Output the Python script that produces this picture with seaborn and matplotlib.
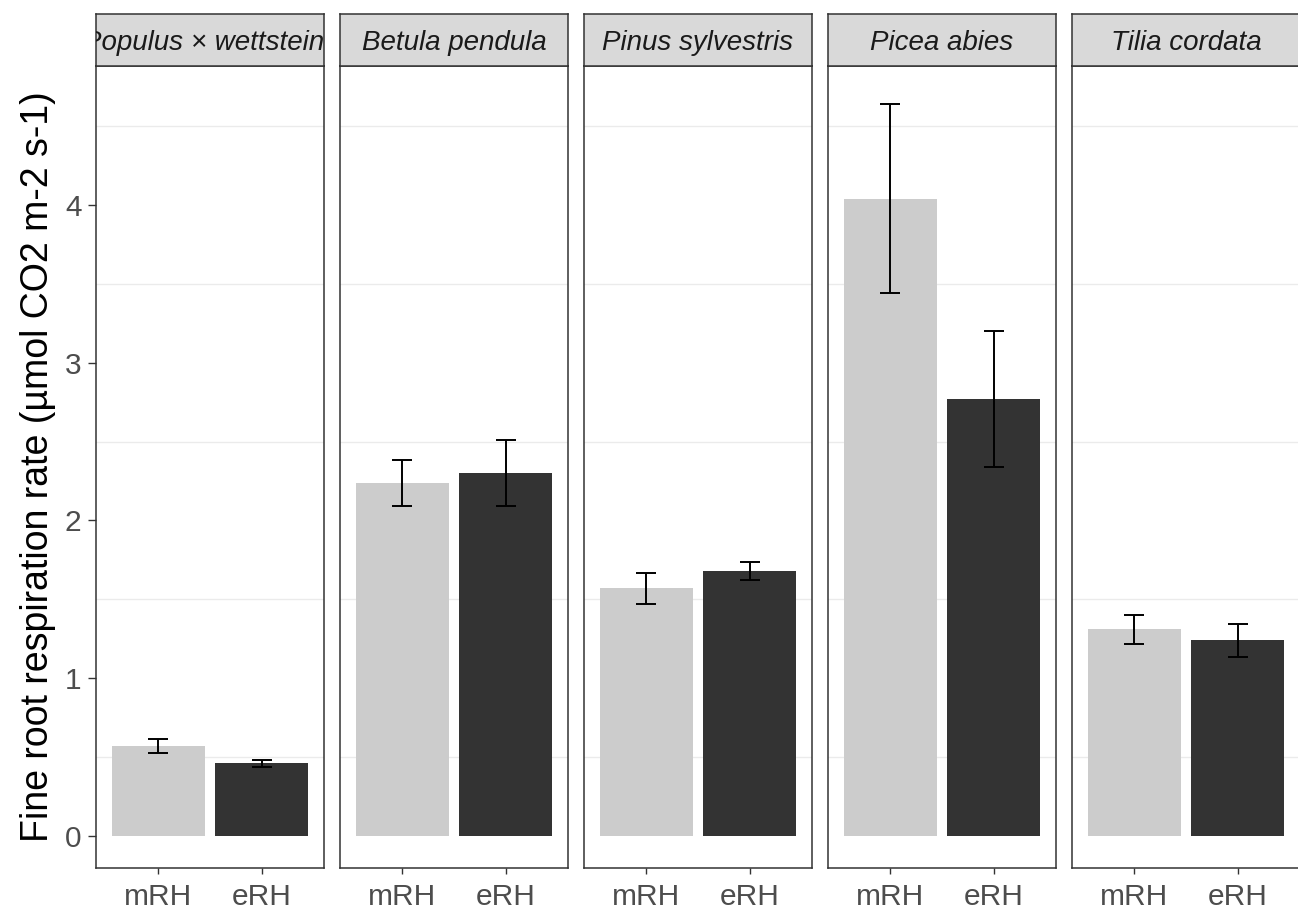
import numpy as np
import pandas as pd
import matplotlib
matplotlib.use("Agg")
import matplotlib.pyplot as plt
import seaborn as sns

# Fine root respiration by species and humidity treatment (mean ± SE)
species = ["Populus \u00d7 wettsteinii", "Betula pendula", "Pinus sylvestris",
           "Picea abies", "Tilia cordata"]
treatments = ["mRH", "eRH"]
mean_mRH = [0.57, 2.24, 1.57, 4.04, 1.31]
mean_eRH = [0.46, 2.30, 1.68, 2.77, 1.24]
se_mRH = [0.045, 0.146, 0.10, 0.60, 0.09]
se_eRH = [0.020, 0.21, 0.057, 0.43, 0.103]

df = pd.DataFrame({
    "species": np.repeat(species, 2),
    "treatment": treatments * len(species),
    "rate": [v for pair in zip(mean_mRH, mean_eRH) for v in pair],
    "se": [v for pair in zip(se_mRH, se_eRH) for v in pair],
})

sns.set_theme(style="white")
plt.rcParams["font.family"] = ["Liberation Sans", "DejaVu Sans"]

W, H = 1298, 919
fig = plt.figure(figsize=(W / 100, H / 100), dpi=100)

palette = {"mRH": "#CCCCCC", "eRH": "#333333"}
border = "#333333"
tick_col = "#4D4D4D"

panel_left = [96, 340, 584, 828, 1072]
panel_w = 228
panel_top, panel_bot = 66, 868
strip_top = 14

ylo, yhi = -0.203, 4.881

for i, sp in enumerate(species):
    x0 = panel_left[i] / W
    ax = fig.add_axes([x0, (H - panel_bot) / H, panel_w / W,
                       (panel_bot - panel_top) / H])
    sub = df[df["species"] == sp]
    sns.barplot(data=sub, x="treatment", y="rate", hue="treatment",
                order=treatments, hue_order=treatments, palette=palette,
                width=0.9, errorbar=None, legend=False, ax=ax,
                linewidth=0, saturation=1)
    ax.errorbar(np.arange(len(treatments)), sub["rate"].values,
                yerr=sub["se"].values, fmt="none", ecolor="black",
                elinewidth=1.4, capsize=7.4, capthick=1.4, zorder=5)
    ax.set_xlim(-0.6, 1.6)
    ax.set_ylim(ylo, yhi)
    ax.set_yticks(np.arange(0.5, 5, 1.0), minor=True)
    ax.grid(False)
    ax.grid(True, which="minor", axis="y", color="#EBEBEB", lw=1.0)
    ax.set_axisbelow(True)
    ax.set_xlabel("")
    ax.set_ylabel("")
    for s in ax.spines.values():
        s.set_color(border)
        s.set_linewidth(1.1)
    ax.tick_params(axis="x", which="major", length=4.5, width=1.0,
                   color=border, labelsize=21.5, labelcolor=tick_col, pad=6,
                   bottom=True)
    ax.tick_params(axis="y", which="minor", length=0, left=False)
    ax.set_yticks([0, 1, 2, 3, 4])
    if i == 0:
        ax.set_yticklabels(["0", "1", "2", "3", "4"])
        ax.tick_params(axis="y", which="major", length=5.5, width=1.0,
                       color=border, labelsize=21.5, labelcolor=tick_col,
                       pad=5, left=True)
        ax.set_ylabel("Fine root respiration rate (\u00b5mol CO2 m-2 s-1)",
                      fontsize=27, color="black", labelpad=6)
    else:
        ax.tick_params(axis="y", which="major", left=False, labelleft=False)

    # facet strip
    sax = fig.add_axes([x0, (H - panel_top) / H, panel_w / W,
                        (panel_top - strip_top) / H])
    sax.set_facecolor("#D9D9D9")
    sax.set_xticks([])
    sax.set_yticks([])
    for s in sax.spines.values():
        s.set_color(border)
        s.set_linewidth(1.1)
    sax.text(0.5, 0.5, sp, transform=sax.transAxes, ha="center",
             va="center_baseline", fontsize=20, style="italic",
             color="#1A1A1A", clip_on=True)

fig.savefig("out.png", dpi=100)
